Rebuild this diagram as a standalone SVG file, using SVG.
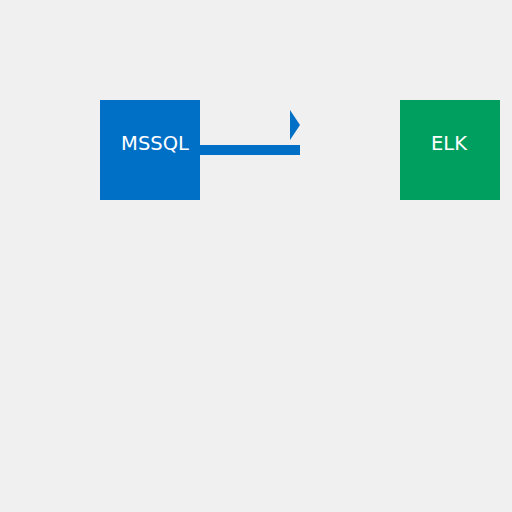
<svg xmlns="http://www.w3.org/2000/svg" width="512" height="512" viewBox="0 0 512 512">
<style>
.lbl{font-family:"DejaVu Sans",sans-serif;font-size:19.5px;fill:#ffffff;text-anchor:middle}
</style>
<rect width="512" height="512" fill="#f0f0f0"/>
<g id="connectors">
<rect x="200" y="145" width="100" height="10" fill="#0070c6"/>
<polygon points="290,110 300,125 290,140" fill="#0070c6"/>
</g>
<g id="mssql">
<rect x="100" y="100" width="100" height="100" fill="#0070c6"/>
<text class="lbl" x="155" y="150">MSSQL</text>
</g>
<g id="elk">
<rect x="400" y="100" width="100" height="100" fill="#009e5f"/>
<text class="lbl" x="449" y="150">ELK</text>
</g>
</svg>
